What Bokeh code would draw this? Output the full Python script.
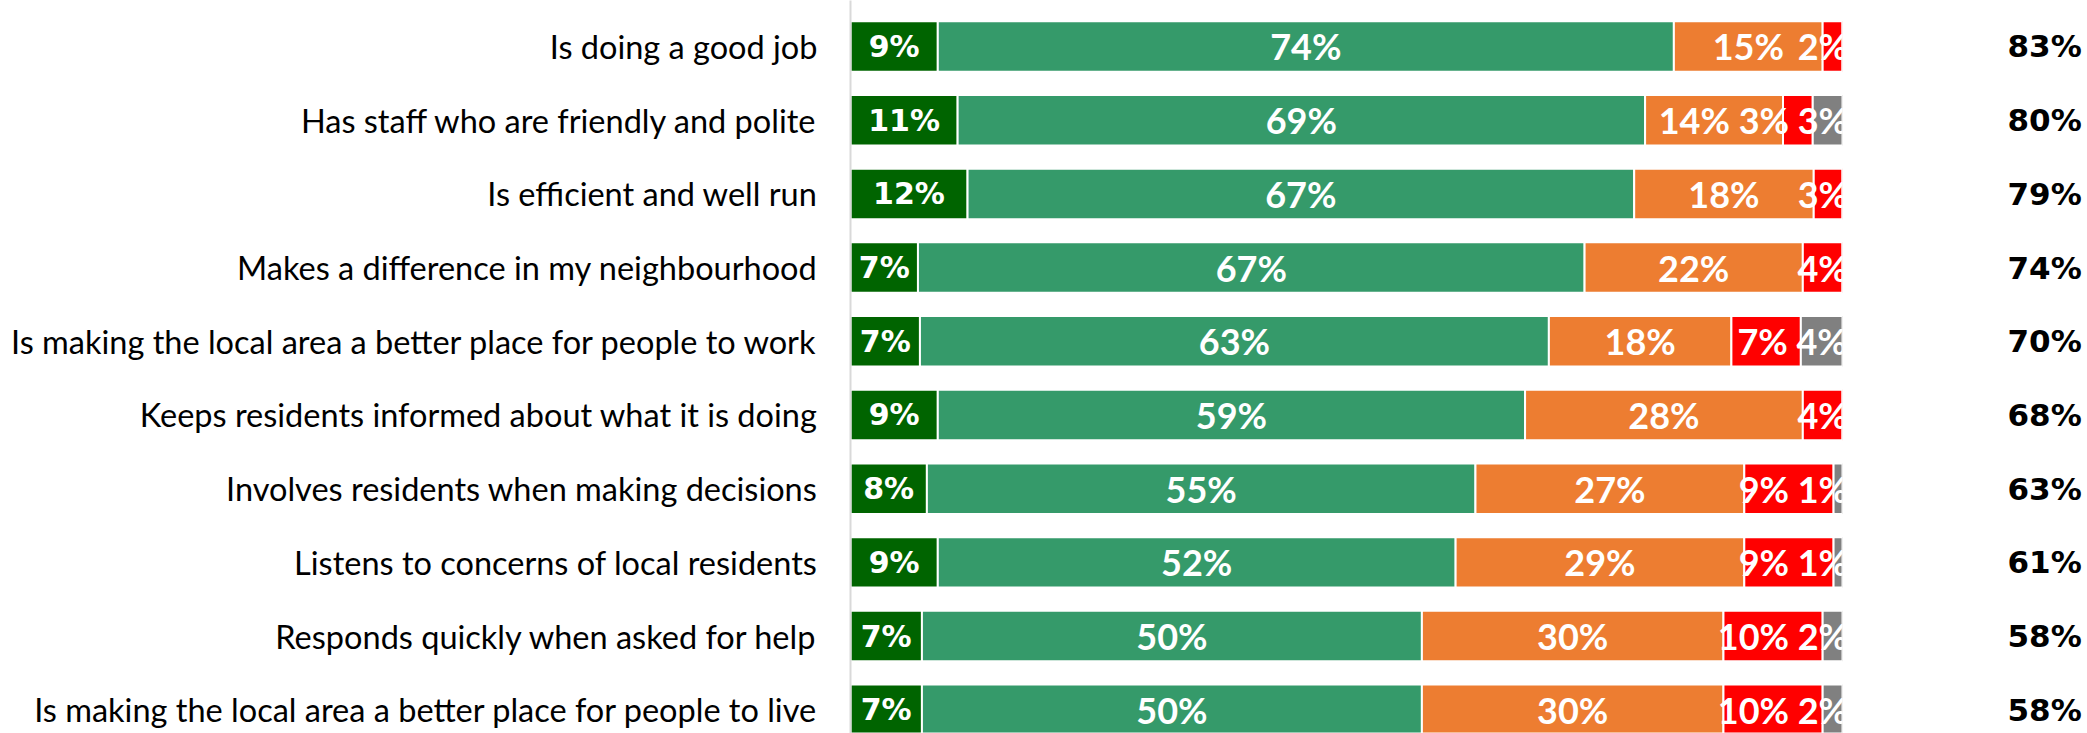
from bokeh.plotting import figure
from bokeh.models import ColumnDataSource, Range1d, FixedTicker, LinearAxis
from bokeh.core.properties import value
from bokeh.embed import file_html
from bokeh.resources import INLINE

categories = [
    "Is doing a good job",
    "Has staff who are friendly and polite",
    "Is efficient and well run",
    "Makes a difference in my neighbourhood",
    "Is making the local area a better place for people to work",
    "Keeps residents informed about what it is doing",
    "Involves residents when making decisions",
    "Listens to concerns of local residents",
    "Responds quickly when asked for help",
    "Is making the local area a better place for people to live",
]
strongly_agree = [8.8, 10.8, 11.8, 6.8, 7.0, 8.8, 7.7, 8.8, 7.2, 7.2]
agree = [74.2, 69.3, 67.2, 67.2, 63.4, 59.2, 55.3, 52.2, 50.4, 50.4]
neither = [15.0, 13.9, 18.1, 22.0, 18.4, 28.0, 27.1, 29.1, 30.4, 30.4]
disagree = [2.0, 3.0, 2.9, 4.0, 7.0, 4.0, 9.0, 9.0, 10.0, 10.0]
dont_know = [0.0, 3.0, 0.0, 0.0, 4.2, 0.0, 0.9, 0.9, 2.0, 2.0]
totals = ["83%", "80%", "79%", "74%", "70%", "68%", "63%", "61%", "58%", "58%"]

series = [strongly_agree, agree, neither, disagree, dont_know]
colors = ["#006400", "#359A6A", "#ED7D31", "#FF0000", "#808080"]

FRAME_PX = 992.0          # width of the plot frame in pixels (0..100 %)
LABEL_PX = 36.0           # font size of segment labels


def label_width_units(txt):
    # approximate rendered width of a bold label, in data units
    w = sum(0.84 if ch == "%" else 0.58 for ch in txt) * LABEL_PX
    return w * 100.0 / FRAME_PX


p = figure(width=2087, height=733, output_backend="svg", toolbar_location=None,
           x_range=Range1d(0, 100), y_range=Range1d(9.322, -0.624),
           min_border_left=850, min_border_right=245, min_border_top=0, min_border_bottom=0,
           y_axis_location=None, x_axis_location=None)
p.outline_line_color = None
p.grid.visible = False
p.background_fill_color = "white"

rows = list(range(len(categories)))
lefts = [0.0] * len(categories)
first_lab = dict(x=[], y=[], t=[])
row_labels = {r: [] for r in rows}
for si, (vals, col) in enumerate(zip(series, colors)):
    rights = [l + v for l, v in zip(lefts, vals)]
    src = ColumnDataSource(dict(y=rows, left=lefts, right=rights))
    p.hbar(y="y", left="left", right="right", height=0.685, source=src,
           fill_color=col, line_color="white", line_width=2)
    for r, l, v in zip(rows, lefts, vals):
        if v > 0:
            txt = f"{round(v)}%"
            if si == 0:
                first_lab["x"].append(l + v / 2)
                first_lab["y"].append(r)
                first_lab["t"].append(txt)
            else:
                row_labels[r].append([l + v / 2, txt])
    lefts = rights

# keep labels inside the chart area and avoid overlaps (right to left)
other_lab = dict(x=[], y=[], t=[])
edge = 100.6
gap = 0.8
for r in rows:
    limit = edge
    for item in reversed(row_labels[r]):
        c, txt = item
        half = label_width_units(txt) / 2
        if c + half > limit:
            c = limit - half
        limit = c - half - gap
        other_lab["x"].append(c)
        other_lab["y"].append(r)
        other_lab["t"].append(txt)

p.text(x="x", y="y", text="t", source=ColumnDataSource(first_lab),
       text_font=value("DejaVu Sans"), text_font_style="bold", text_font_size="30px",
       text_color="white", text_align="center", text_baseline="middle")
p.text(x="x", y="y", text="t", source=ColumnDataSource(other_lab),
       text_font=value("Lato"), text_font_style="bold", text_font_size=f"{LABEL_PX:g}px",
       text_color="white", text_align="center", text_baseline="middle")

ticker = FixedTicker(ticks=rows)
left_axis = LinearAxis(ticker=ticker,
                       major_label_overrides={i: c for i, c in enumerate(categories)})
left_axis.axis_line_color = "#D9D9D9"
left_axis.axis_line_width = 2
left_axis.major_tick_line_color = None
left_axis.minor_tick_line_color = None
left_axis.major_tick_out = 0
left_axis.major_tick_in = 0
left_axis.major_label_standoff = 33
left_axis.major_label_text_font = "Lato"
left_axis.major_label_text_font_size = "32.5px"
left_axis.major_label_text_color = "black"
p.add_layout(left_axis, "left")

right_axis = LinearAxis(ticker=ticker,
                        major_label_overrides={i: t for i, t in enumerate(totals)})
right_axis.axis_line_color = None
right_axis.major_tick_line_color = None
right_axis.minor_tick_line_color = None
right_axis.major_tick_out = 0
right_axis.major_tick_in = 0
right_axis.major_label_standoff = 165
right_axis.major_label_text_font = "DejaVu Sans"
right_axis.major_label_text_font_style = "bold"
right_axis.major_label_text_font_size = "31px"
right_axis.major_label_text_color = "black"
p.add_layout(right_axis, "right")

open("out.html", "w").write(file_html(p, INLINE))
